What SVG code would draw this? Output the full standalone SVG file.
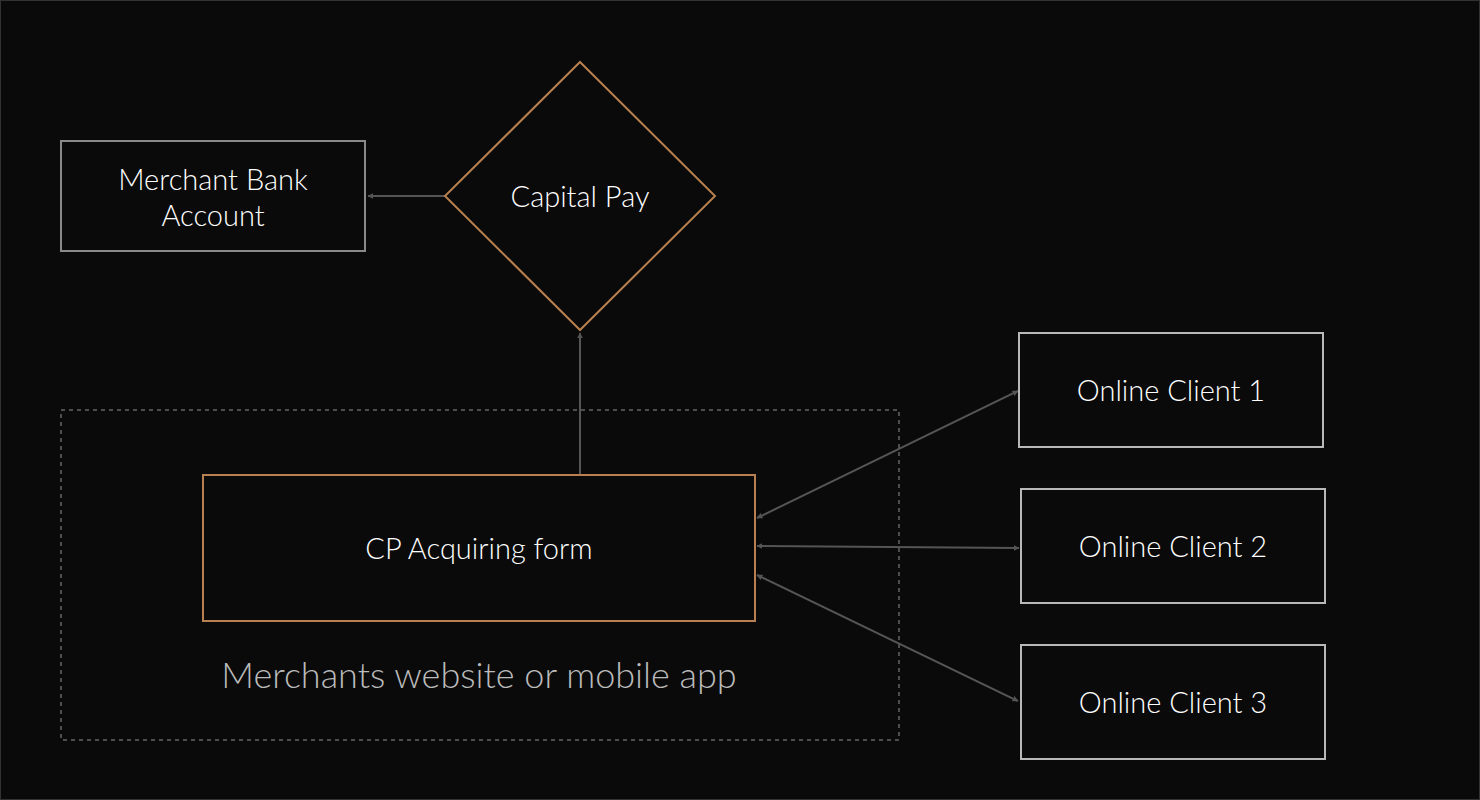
<svg xmlns="http://www.w3.org/2000/svg" width="1480" height="800" viewBox="0 0 1480 800">
<defs>
<style>
.t{font-family:Lato,"Open Sans",sans-serif;fill:#ffffff;font-size:29px;text-anchor:middle;font-weight:300}
.box{fill:#0a0a0a;stroke:#8a8a8a;stroke-width:2}
.cl{fill:#0a0a0a;stroke:#b8b8b8;stroke-width:2}
.or{fill:#0a0a0a;stroke:#b8804f;stroke-width:2}
.c{stroke:#555;stroke-width:2;fill:none}
</style>
<marker id="a" viewBox="0 0 10 10" refX="9" refY="5" markerWidth="6" markerHeight="6" orient="auto-start-reverse" markerUnits="userSpaceOnUse"><path d="M0,0L10,5L0,10z" fill="#555"/></marker>
</defs>
<rect x="0" y="0" width="1480" height="800" fill="#0a0a0a" stroke="#333" stroke-width="2"/>
<g id="container"><rect x="61" y="410" width="838" height="330" fill="none" stroke="#666" stroke-width="1.5" stroke-dasharray="4,4"/>
<text class="t" x="479" y="688" style="font-size:36px;fill:#bbbbbb">Merchants website or mobile app</text></g>
<g id="connectors">
<line class="c" x1="445" y1="196" x2="368" y2="196" marker-end="url(#a)"/>
<line class="c" x1="580" y1="474" x2="580" y2="333" marker-end="url(#a)"/>
<line class="c" x1="757" y1="518" x2="1018" y2="391" marker-start="url(#a)" marker-end="url(#a)"/>
<line class="c" x1="757" y1="546" x2="1019" y2="548" marker-start="url(#a)" marker-end="url(#a)"/>
<line class="c" x1="757" y1="575" x2="1018" y2="701" marker-start="url(#a)" marker-end="url(#a)"/>
</g>
<g id="bank"><rect class="box" x="61" y="141" width="304" height="110"/><text class="t" x="213" y="190">Merchant Bank</text><text class="t" x="213" y="226">Account</text></g>
<g id="capitalpay"><polygon class="or" points="580,62 715,196 580,330 445,196"/><text class="t" x="580" y="207">Capital Pay</text></g>
<g id="form"><rect class="or" x="203" y="475" width="552" height="146"/><text class="t" x="479" y="559">CP Acquiring form</text></g>
<g id="c1"><rect class="cl" x="1019" y="333" width="304" height="114"/><text class="t" x="1171" y="401">Online Client 1</text></g>
<g id="c2"><rect class="cl" x="1021" y="489" width="304" height="114"/><text class="t" x="1173" y="557">Online Client 2</text></g>
<g id="c3"><rect class="cl" x="1021" y="645" width="304" height="114"/><text class="t" x="1173" y="713">Online Client 3</text></g>
</svg>
